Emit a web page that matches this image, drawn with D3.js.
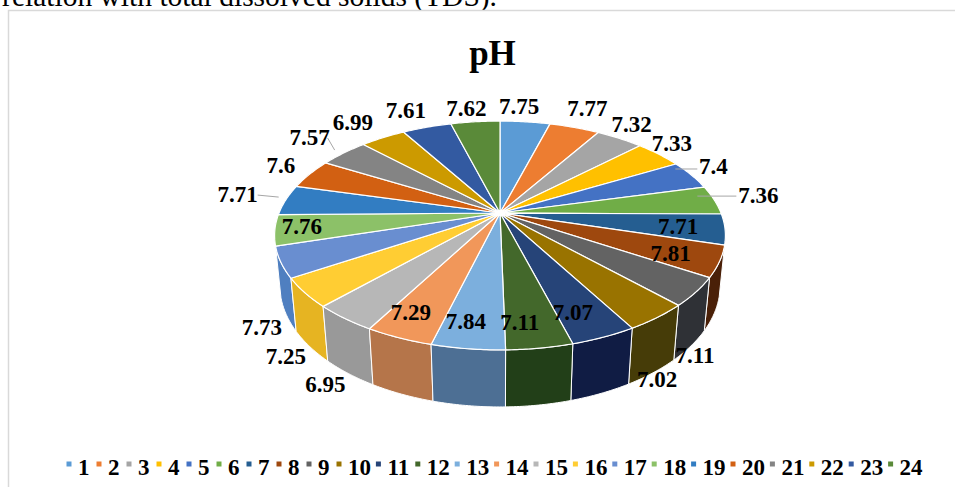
<!DOCTYPE html>
<html>
<head>
<meta charset="utf-8">
<script src="https://cdn.jsdelivr.net/npm/d3@7/dist/d3.min.js"></script>
<style>
html,body{margin:0;padding:0;background:#fff;overflow:hidden}
svg{display:block}
text{font-family:"Liberation Serif","Times New Roman",serif;fill:#000}
</style>
</head>
<body>
<svg id="chart" width="955" height="487"></svg>
<script>
const categories = ["1","2","3","4","5","6","7","8","9","10","11","12","13","14","15","16","17","18","19","20","21","22","23","24"];
const values = [7.75,7.77,7.32,7.33,7.4,7.36,7.71,7.81,7.11,7.02,7.07,7.11,7.84,7.29,6.95,7.25,7.73,7.76,7.71,7.6,7.57,6.99,7.61,7.62];
const labelTexts = ["7.75","7.77","7.32","7.33","7.4","7.36","7.71","7.81","7.11","7.02","7.07","7.11","7.84","7.29","6.95","7.25","7.73","7.76","7.71","7.6","7.57","6.99","7.61","7.62"];
const topColors = ["#5B9BD5","#ED7D31","#A5A5A5","#FFC000","#4472C4","#70AD47","#255E91","#9E480E","#636363","#997300","#264478","#43682B","#7CAFDD","#F1975A","#B7B7B7","#FFCD33","#698ED0","#8CC168","#327DC2","#D26012","#848484","#CC9A00","#335AA1","#5A8A39"];
const wallColors = ["#3d6a92","#a1551f","#707070","#ad8200","#2e4d85","#4c7530","#1a4266","#4a2008","#2f3136","#463c08","#101c44","#223f18","#4d6f94","#b5754a","#999999","#e6b422","#4f7fc0","#5f8347","#225584","#8f410c","#5a5a5a","#8b6900","#233d6d","#3d5e27"];
/* label placement relative to each slice's rim point (layout, not data) */
const labelDx = [-6,13,12,13,22,44,-47,-49,-1,0,-31,-20,-2,12,-19,-19,-19,27,-48,-29,-34,-30,-21,-9];
const labelDy = [-15,-19,-14,-11,-8,-5,-3,-8,64,62,-25,-26,-27,-25,66,64,65,-4,-6,-9,-16,-15,-17,-13];
/* leader lines: slice index, inner end offset from rim point, outer end offset from label centre */
const leaders = [[4,-16,-6,-16,2],[5,-17,-4,-22,1],[18,-7,-3,20,1],[20,-9,-3,18,1]];

const svg = d3.select("#chart");

/* clipped line of the surrounding page text and chart frame */
svg.append("text").attr("x",497).attr("y",6).attr("text-anchor","end")
  .attr("font-size",29.5).text("relation with total dissolved solids (TDS).");
svg.append("rect").attr("x",8.5).attr("y",10.5).attr("width",960).attr("height",500)
  .attr("fill","#fff").attr("stroke","#d9d9d9").attr("stroke-width",1.5);

svg.append("text").attr("x",492.5).attr("y",65).attr("text-anchor","middle")
  .attr("font-size",35).attr("font-weight","bold").text("pH");

/* perspective projection of the disc */
const cx=500, cy=213, A=221, B=110, D=50.3, k=0.1965, c=0.023;
function project(theta,r,z){
  const u=r*Math.sin(theta), v=-r*Math.cos(theta), w=1-k*v+c*z;
  return [cx+A*u/w, cy+(B*v+D*z)/w];
}
const pie = d3.pie().sort(null).value(d=>d).startAngle(0).endAngle(2*Math.PI);
const arcs = pie(values);
const line = d3.line();
const samples = (a0,a1)=>d3.range(0,25).map(i=>a0+(a1-a0)*i/24);

/* side walls, back to front */
const walls = arcs.map((d,i)=>({d,i})).sort((p,q)=>{
  const m=x=>-Math.cos((x.d.startAngle+x.d.endAngle)/2);
  return m(p)-m(q);
});
svg.append("g").selectAll("path").data(walls).join("path")
  .attr("d",({d})=>{
    const s=samples(d.startAngle,d.endAngle);
    const pts=s.map(t=>project(t,1,0)).concat(s.slice().reverse().map(t=>project(t,1,1)));
    return line(pts)+"Z";
  })
  .attr("fill",({i})=>wallColors[i])
  .attr("stroke","#fff").attr("stroke-width",1).attr("stroke-linejoin","round");

/* top face */
svg.append("g").selectAll("path").data(arcs).join("path")
  .attr("d",d=>{
    const pts=[[cx,cy]].concat(samples(d.startAngle,d.endAngle).map(t=>project(t,1,0)));
    return line(pts)+"Z";
  })
  .attr("fill",(d,i)=>topColors[i])
  .attr("stroke","#fff").attr("stroke-width",1.2).attr("stroke-linejoin","round");
svg.append("ellipse").attr("cx",cx).attr("cy",cy).attr("rx",5).attr("ry",3).attr("fill","#fff");

/* labels */
const mid = d=>(d.startAngle+d.endAngle)/2;
const rim = i=>project(mid(arcs[i]),1,0);
const labelPos = i=>{
  const p=rim(i);
  return [p[0]+labelDx[i],p[1]+labelDy[i]];
};
svg.append("g").selectAll("line").data(leaders).join("line")
  .attr("x1",l=>rim(l[0])[0]+l[1])
  .attr("y1",l=>rim(l[0])[1]+l[2])
  .attr("x2",l=>labelPos(l[0])[0]+l[3])
  .attr("y2",l=>labelPos(l[0])[1]+l[4])
  .attr("stroke","#a6a6a6").attr("stroke-width",1);

svg.append("g").selectAll("text").data(labelTexts).join("text")
  .attr("x",(d,i)=>labelPos(i)[0])
  .attr("y",(d,i)=>labelPos(i)[1])
  .attr("text-anchor","middle").attr("dominant-baseline","central")
  .attr("font-size",23).attr("font-weight","bold").text(d=>d);

/* legend */
const legendX = [];
categories.forEach((c,i)=>{
  const prev = i===0 ? 69 : legendX[i-1] + (i<10 ? 30 : 39.4);
  legendX.push(prev);
});
const legend = svg.append("g").selectAll("g").data(categories).join("g")
  .attr("transform",(d,i)=>`translate(${legendX[i]},0)`);
legend.append("rect").attr("x",-2.5).attr("y",461.5).attr("width",5).attr("height",5)
  .attr("fill",(d,i)=>topColors[i]);
legend.append("text").attr("x",9).attr("y",475)
  .attr("font-size",23).attr("font-weight","bold").text(d=>d);
</script>
</body>
</html>
